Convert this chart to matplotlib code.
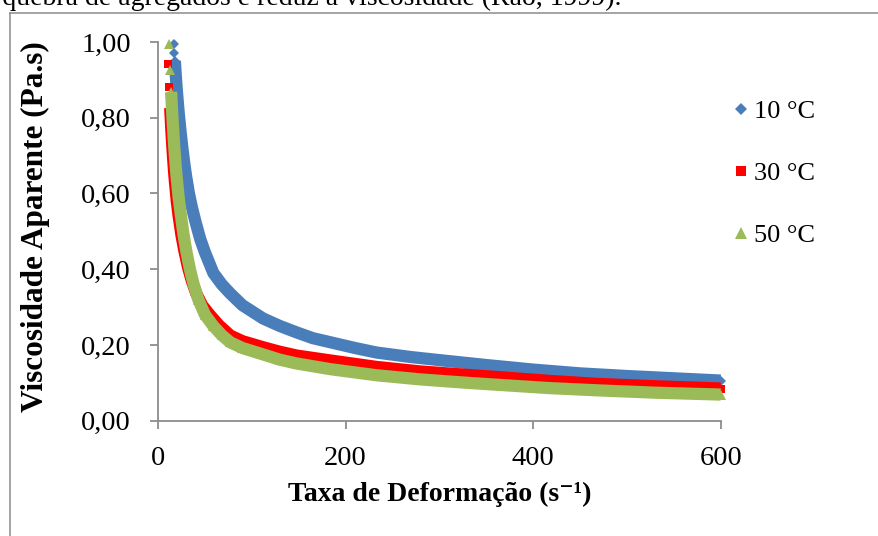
import matplotlib.pyplot as plt
from matplotlib.lines import Line2D

plt.rcParams['font.family'] = ['Liberation Serif', 'DejaVu Serif']

# Taxa de deformação (s^-1) e viscosidade aparente (Pa.s)
rate_10 = [17, 17.5, 18, 18.5, 19, 19.5, 20, 20.5, 21, 21.5, 22, 23, 24, 26, 28, 30,
           33, 36, 40, 45, 50, 59, 68, 77, 90, 112, 130, 148, 165, 184, 210, 233,
           270, 300, 350, 400, 450, 500, 550, 600]
visc_10 = [0.995, 0.97, 0.95, 0.93, 0.91, 0.893, 0.875, 0.86, 0.845, 0.83, 0.815,
           0.79, 0.765, 0.72, 0.68, 0.645, 0.60, 0.565, 0.525, 0.48, 0.445, 0.39,
           0.36, 0.336, 0.305, 0.27, 0.25, 0.233, 0.218, 0.207, 0.192, 0.18, 0.168,
           0.16, 0.147, 0.135, 0.125, 0.118, 0.112, 0.106]

rate_30 = [11, 12, 13, 14, 15, 16, 17, 18, 20, 22, 25, 28, 32, 36, 41, 47, 55, 65,
           77, 90, 112, 130, 148, 184, 233, 280, 330, 380, 418, 470, 530, 600]
visc_30 = [0.943, 0.88, 0.826, 0.778, 0.735, 0.697, 0.662, 0.632, 0.58, 0.54, 0.49,
           0.45, 0.405, 0.37, 0.335, 0.305, 0.28, 0.252, 0.225, 0.21, 0.194, 0.182,
           0.172, 0.159, 0.142, 0.13, 0.121, 0.112, 0.105, 0.097, 0.091, 0.085]

rate_50 = [12, 13, 14, 15, 16, 17, 18, 19, 20, 22, 24, 27, 30, 34, 38, 43, 50, 59,
           68, 77, 90, 112, 130, 148, 184, 233, 280, 330, 380, 418, 470, 530, 600]
visc_50 = [0.995, 0.926, 0.868, 0.82, 0.775, 0.735, 0.70, 0.668, 0.64, 0.59, 0.55,
           0.495, 0.45, 0.40, 0.36, 0.32, 0.28, 0.25, 0.226, 0.207, 0.192, 0.175,
           0.161, 0.151, 0.136, 0.12, 0.109, 0.10, 0.092, 0.086, 0.08, 0.074, 0.069]

labels = ['10 °C', '30 °C', '50 °C']
x_ticks = [0, 200, 400, 600]
y_ticks = [0.0, 0.2, 0.4, 0.6, 0.8, 1.0]
y_tick_labels = ['0,00', '0,20', '0,40', '0,60', '0,80', '1,00']

W, H = 879, 536
fig = plt.figure(figsize=(W / 100, H / 100), dpi=100)
ax = fig.add_axes([158 / W, 1 - 420.7 / H, (720.7 - 158) / W, (420.7 - 42) / H])

series = [
    (rate_10, visc_10, '#4a7ebb', 'D', 5.4, 18),
    (rate_30, visc_30, '#ff0000', 's', 6.2, 13),
    (rate_50, visc_50, '#9bbb59', '^', 7.2, 14),
]

handles = []
for (x, y, color, marker, ms, start), label in zip(series, labels):
    # dense band where the markers merge
    xs = [a for a in x if a >= start]
    ys = [b for a, b in zip(x, y) if a >= start]
    ax.plot(xs, ys, color=color, lw=8.8, solid_capstyle='butt',
            solid_joinstyle='round', clip_on=False)
    h, = ax.plot(x, y, linestyle='none', marker=marker, ms=ms, color=color,
                 markeredgewidth=0, clip_on=False, label=label)
    handles.append(h)

ax.set_xlim(0, 600)
ax.set_ylim(0, 1.0)
ax.set_xticks(x_ticks)
ax.set_yticks(y_ticks)
ax.set_yticklabels(y_tick_labels)

axis_gray = '#8c8c8c'
for side in ['top', 'right']:
    ax.spines[side].set_visible(False)
for side in ['left', 'bottom']:
    ax.spines[side].set_color(axis_gray)
    ax.spines[side].set_linewidth(1.3)
ax.tick_params(direction='out', length=5.5, width=1.3, color=axis_gray,
               labelsize=20.5)
ax.tick_params(axis='y', pad=14)
ax.tick_params(axis='x', pad=13)

ax.set_xlabel('Taxa de Deformação (s⁻¹)', fontsize=20, fontweight='bold')
ax.xaxis.set_label_coords(0.5, (420.7 - 482) / 378.7)
ax.set_ylabel('Viscosidade Aparente (Pa.s)', fontsize=22.5, fontweight='bold')
ax.yaxis.set_label_coords((50 - 158) / 562.7, (420.7 - 227) / 378.7)

fig.legend(handles=handles, loc='upper left',
           bbox_to_anchor=(734 / W, 1 - 100 / H), frameon=False,
           fontsize=19, handlelength=0.5, handletextpad=0.25,
           labelspacing=1.46, borderpad=0, borderaxespad=0, markerscale=1.15)

# outer frame of the figure box (only left and top edges are visible)
fig.add_artist(Line2D([10 / W, 10 / W], [0, 1 - 12.7 / H], color=axis_gray,
                      lw=1.1, transform=fig.transFigure))
fig.add_artist(Line2D([10 / W, 1], [1 - 12.7 / H, 1 - 12.7 / H], color=axis_gray,
                      lw=1.1, transform=fig.transFigure))

# surrounding body text, cut off by the top edge
fig.text(622 / W, 1 - 5 / H, 'a quebra de agregados e reduz a viscosidade (Rao, 1999).',
         ha='right', va='baseline', fontsize=20)

fig.savefig('out.png', dpi=100)
